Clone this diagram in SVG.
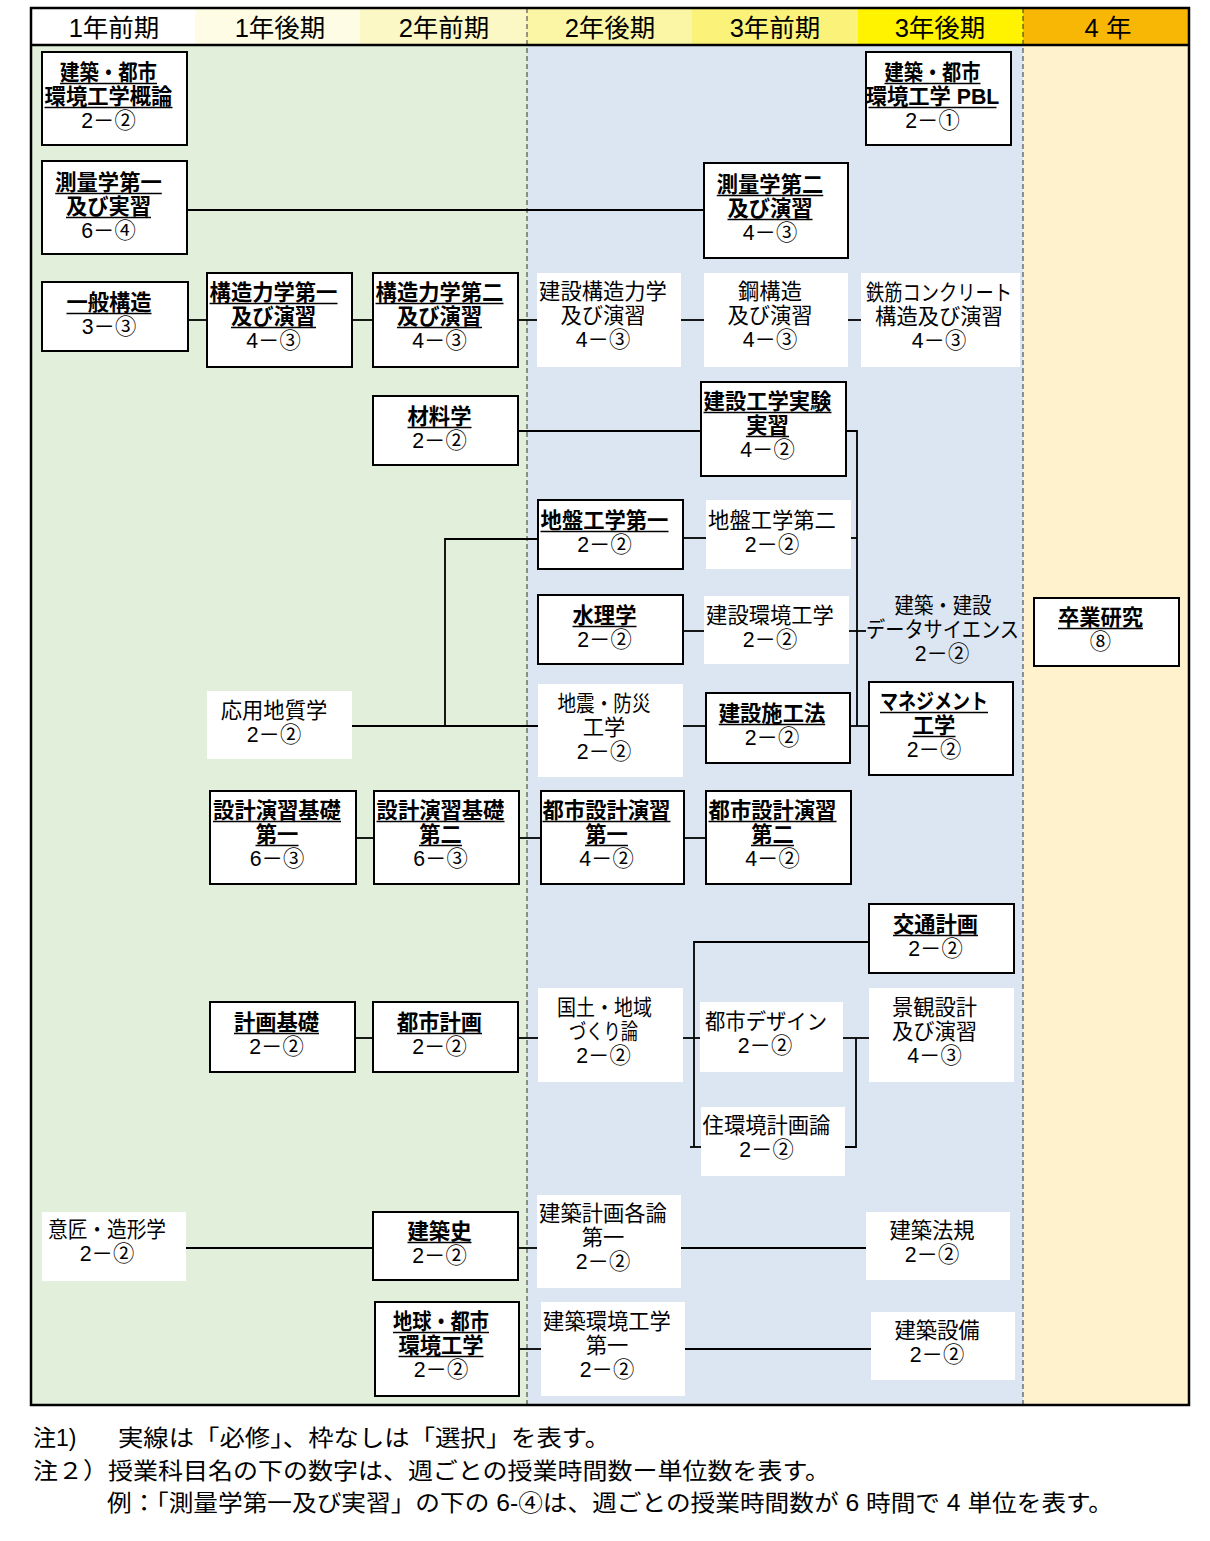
<svg xmlns="http://www.w3.org/2000/svg" width="1210" height="1541" viewBox="0 0 1210 1541">
<style>
.t{font-family:"Liberation Sans","Noto Sans CJK JP",sans-serif;font-size:21.3px;text-anchor:middle;fill:#000}
.b{font-weight:700}
.h{font-family:"Liberation Sans","Noto Sans CJK JP",sans-serif;font-size:25.5px;text-anchor:middle;fill:#000}
.n{font-family:"Liberation Sans","Noto Sans CJK JP",sans-serif;font-size:23px;fill:#000}
.box{fill:#fff;stroke:#000;stroke-width:2}
.plain{fill:#fff}
.c{stroke:#000;stroke-width:1.8;fill:none}
.ul{stroke:#000;stroke-width:1.4;fill:none}
.dash{stroke:#333;stroke-width:1;stroke-dasharray:5 3}
</style>
<rect x="0" y="0" width="1210" height="1541" fill="#fff"/>
<g id="background">
<rect x="31" y="8" width="164" height="37" fill="#ffffff"/>
<rect x="195" y="8" width="165" height="37" fill="#fefce4"/>
<rect x="360" y="8" width="167" height="37" fill="#fcf8c6"/>
<rect x="527" y="8" width="165" height="37" fill="#fbf6a6"/>
<rect x="692" y="8" width="166" height="37" fill="#fbf27a"/>
<rect x="858" y="8" width="165" height="37" fill="#fff300"/>
<rect x="1023" y="8" width="166" height="37" fill="#f8b705"/>
<rect x="31" y="45" width="496" height="1360" fill="#e2efda"/>
<rect x="527" y="45" width="496" height="1360" fill="#dce6f2"/>
<rect x="1023" y="45" width="166" height="1360" fill="#fff2cc"/>
<line class="dash" x1="527" y1="8" x2="527" y2="1405"/>
<line class="dash" x1="1023" y1="8" x2="1023" y2="1405"/>
<rect x="31" y="8" width="1158" height="1397" fill="none" stroke="#000" stroke-width="2.5"/>
<line x1="31" y1="45" x2="1189" y2="45" stroke="#000" stroke-width="2.5"/>
</g>
<g id="header">
<text class="h" x="114" y="37">1年前期</text>
<text class="h" x="280" y="37">1年後期</text>
<text class="h" x="444" y="37">2年前期</text>
<text class="h" x="610" y="37">2年後期</text>
<text class="h" x="775" y="37">3年前期</text>
<text class="h" x="940" y="37">3年後期</text>
<text class="h" x="1108" y="37">4 年</text>
</g>
<g id="connectors">
<line class="c" x1="187" y1="210" x2="704" y2="210"/>
<line class="c" x1="188" y1="320" x2="207" y2="320"/>
<line class="c" x1="352" y1="320" x2="373" y2="320"/>
<line class="c" x1="518" y1="320" x2="537" y2="320"/>
<line class="c" x1="681" y1="320" x2="704" y2="320"/>
<line class="c" x1="848" y1="320" x2="861" y2="320"/>
<line class="c" x1="518" y1="431" x2="701" y2="431"/>
<path class="c" d="M846 431 H857 V726"/>
<line class="c" x1="683" y1="538" x2="706" y2="538"/>
<line class="c" x1="851" y1="538" x2="857" y2="538"/>
<line class="c" x1="683" y1="631" x2="704" y2="631"/>
<line class="c" x1="849" y1="631" x2="866" y2="631"/>
<line class="c" x1="683" y1="726" x2="706" y2="726"/>
<line class="c" x1="850" y1="726" x2="869" y2="726"/>
<line class="c" x1="352" y1="726" x2="538" y2="726"/>
<path class="c" d="M445 726 V539 H538"/>
<line class="c" x1="356" y1="838" x2="374" y2="838"/>
<line class="c" x1="519" y1="838" x2="541" y2="838"/>
<line class="c" x1="684" y1="838" x2="706" y2="838"/>
<line class="c" x1="355" y1="1038" x2="373" y2="1038"/>
<line class="c" x1="518" y1="1038" x2="538" y2="1038"/>
<line class="c" x1="683" y1="1038" x2="700" y2="1038"/>
<path class="c" d="M869 942 H694 V1147"/>
<line class="c" x1="690" y1="1147" x2="701" y2="1147"/>
<line class="c" x1="843" y1="1038" x2="869" y2="1038"/>
<path class="c" d="M856 1038 V1147 H845"/>
<line class="c" x1="186" y1="1248" x2="373" y2="1248"/>
<line class="c" x1="518" y1="1248" x2="537" y2="1248"/>
<line class="c" x1="681" y1="1248" x2="866" y2="1248"/>
<line class="c" x1="519" y1="1349" x2="541" y2="1349"/>
<line class="c" x1="685" y1="1349" x2="871" y2="1349"/>
</g>
<g id="n1"><rect class="box" x="42" y="52" width="145" height="93"/>
<text class="t"><tspan class="b" x="108.5" y="80" textLength="97" lengthAdjust="spacingAndGlyphs">建築・都市</tspan><tspan class="b" x="108.5" y="104">環境工学概論</tspan><tspan x="108.5" y="128">2－②</tspan></text>
<path class="ul" d="M60 83.5h97M44.5 107.5h128"/></g>
<g id="n2"><rect class="box" x="866" y="52" width="145" height="93"/>
<text class="t"><tspan class="b" x="932.5" y="80" textLength="96" lengthAdjust="spacingAndGlyphs">建築・都市</tspan><tspan class="b" x="932.5" y="104">環境工学 PBL</tspan><tspan x="932.5" y="128">2－①</tspan></text>
<path class="ul" d="M884.5 83.5h96M868.5 107.5h128"/></g>
<g id="n3"><rect class="box" x="42" y="161" width="145" height="93"/>
<text class="t"><tspan class="b" x="108.5" y="190">測量学第一</tspan><tspan class="b" x="108.5" y="214">及び実習</tspan><tspan x="108.5" y="238">6－④</tspan></text>
<path class="ul" d="M55.25 193.5h106.5M66 217.5h85"/></g>
<g id="n4"><rect class="box" x="704" y="163" width="144" height="95"/>
<text class="t"><tspan class="b" x="770" y="192">測量学第二</tspan><tspan class="b" x="770" y="216">及び演習</tspan><tspan x="770" y="240">4－③</tspan></text>
<path class="ul" d="M716.75 195.5h106.5M727.5 219.5h85"/></g>
<g id="n5"><rect class="box" x="42" y="282" width="146" height="69"/>
<text class="t"><tspan class="b" x="109" y="310">一般構造</tspan><tspan x="109" y="334">3－③</tspan></text>
<path class="ul" d="M66.5 313.5h85"/></g>
<g id="n6"><rect class="box" x="207" y="273" width="145" height="94"/>
<text class="t"><tspan class="b" x="273.5" y="300">構造力学第一</tspan><tspan class="b" x="273.5" y="324">及び演習</tspan><tspan x="273.5" y="348">4－③</tspan></text>
<path class="ul" d="M209.5 303.5h128M231 327.5h85"/></g>
<g id="n7"><rect class="box" x="373" y="273" width="145" height="94"/>
<text class="t"><tspan class="b" x="439.5" y="300">構造力学第二</tspan><tspan class="b" x="439.5" y="324">及び演習</tspan><tspan x="439.5" y="348">4－③</tspan></text>
<path class="ul" d="M375.5 303.5h128M397 327.5h85"/></g>
<g id="n8"><rect class="plain" x="537" y="273" width="144" height="94"/>
<text class="t"><tspan x="603" y="299">建設構造力学</tspan><tspan x="603" y="323">及び演習</tspan><tspan x="603" y="347">4－③</tspan></text></g>
<g id="n9"><rect class="plain" x="704" y="273" width="144" height="94"/>
<text class="t"><tspan x="770" y="299">鋼構造</tspan><tspan x="770" y="323">及び演習</tspan><tspan x="770" y="347">4－③</tspan></text></g>
<g id="n10"><rect class="plain" x="861" y="273" width="159" height="94"/>
<text class="t"><tspan x="939" y="300" textLength="146" lengthAdjust="spacingAndGlyphs">鉄筋コンクリート</tspan><tspan x="939" y="324">構造及び演習</tspan><tspan x="939" y="348">4－③</tspan></text></g>
<g id="n11"><rect class="box" x="373" y="396" width="145" height="69"/>
<text class="t"><tspan class="b" x="439.5" y="424">材料学</tspan><tspan x="439.5" y="448">2－②</tspan></text>
<path class="ul" d="M407.5 427.5h64"/></g>
<g id="n12"><rect class="box" x="701" y="382" width="145" height="94"/>
<text class="t"><tspan class="b" x="767.5" y="409">建設工学実験</tspan><tspan class="b" x="767.5" y="433">実習</tspan><tspan x="767.5" y="457">4－②</tspan></text>
<path class="ul" d="M703.5 412.5h128M746 436.5h43"/></g>
<g id="n13"><rect class="box" x="538" y="500" width="145" height="69"/>
<text class="t"><tspan class="b" x="604.5" y="528">地盤工学第一</tspan><tspan x="604.5" y="552">2－②</tspan></text>
<path class="ul" d="M540.5 531.5h128"/></g>
<g id="n14"><rect class="plain" x="706" y="500" width="145" height="69"/>
<text class="t"><tspan x="772" y="528">地盤工学第二</tspan><tspan x="772" y="552">2－②</tspan></text></g>
<g id="n15"><rect class="box" x="538" y="595" width="145" height="69"/>
<text class="t"><tspan class="b" x="604.5" y="623">水理学</tspan><tspan x="604.5" y="647">2－②</tspan></text>
<path class="ul" d="M572.5 626.5h64"/></g>
<g id="n16"><rect class="plain" x="704" y="596" width="145" height="68"/>
<text class="t"><tspan x="770" y="623">建設環境工学</tspan><tspan x="770" y="647">2－②</tspan></text></g>
<g id="n17"><rect class="plain" x="538" y="684" width="145" height="93"/>
<text class="t"><tspan x="604" y="711" textLength="93" lengthAdjust="spacingAndGlyphs">地震・防災</tspan><tspan x="604" y="735">工学</tspan><tspan x="604" y="759">2－②</tspan></text></g>
<g id="n18"><rect class="box" x="706" y="693" width="144" height="70"/>
<text class="t"><tspan class="b" x="772" y="721">建設施工法</tspan><tspan x="772" y="745">2－②</tspan></text>
<path class="ul" d="M718.75 724.5h106.5"/></g>
<g id="n19">
<text class="t"><tspan x="943" y="613" textLength="97" lengthAdjust="spacingAndGlyphs">建築・建設</tspan><tspan x="942.5" y="637" textLength="153" lengthAdjust="spacingAndGlyphs">データサイエンス</tspan><tspan x="942" y="661">2－②</tspan></text></g>
<g id="n20"><rect class="box" x="869" y="682" width="144" height="93"/>
<text class="t"><tspan class="b" x="934" y="709" textLength="108" lengthAdjust="spacingAndGlyphs">マネジメント</tspan><tspan class="b" x="934" y="733">工学</tspan><tspan x="934" y="757">2－②</tspan></text>
<path class="ul" d="M880 712.5h108M912.5 736.5h43"/></g>
<g id="n21"><rect class="box" x="1034" y="598" width="145" height="68"/>
<text class="t"><tspan class="b" x="1100.5" y="625">卒業研究</tspan><tspan x="1100.5" y="649">⑧</tspan></text>
<path class="ul" d="M1058 628.5h85"/></g>
<g id="n22"><rect class="plain" x="207" y="691" width="145" height="68"/>
<text class="t"><tspan x="274" y="718">応用地質学</tspan><tspan x="274" y="742">2－②</tspan></text></g>
<g id="n23"><rect class="box" x="210" y="791" width="146" height="93"/>
<text class="t"><tspan class="b" x="277" y="818">設計演習基礎</tspan><tspan class="b" x="277" y="842">第一</tspan><tspan x="277" y="866">6－③</tspan></text>
<path class="ul" d="M213 821.5h128M255.5 845.5h43"/></g>
<g id="n24"><rect class="box" x="374" y="791" width="145" height="93"/>
<text class="t"><tspan class="b" x="440.5" y="818">設計演習基礎</tspan><tspan class="b" x="440.5" y="842">第二</tspan><tspan x="440.5" y="866">6－③</tspan></text>
<path class="ul" d="M376.5 821.5h128M419 845.5h43"/></g>
<g id="n25"><rect class="box" x="541" y="791" width="143" height="93"/>
<text class="t"><tspan class="b" x="606.5" y="818">都市設計演習</tspan><tspan class="b" x="606.5" y="842">第一</tspan><tspan x="606.5" y="866">4－②</tspan></text>
<path class="ul" d="M542.5 821.5h128M585 845.5h43"/></g>
<g id="n26"><rect class="box" x="706" y="791" width="145" height="93"/>
<text class="t"><tspan class="b" x="772.5" y="818">都市設計演習</tspan><tspan class="b" x="772.5" y="842">第二</tspan><tspan x="772.5" y="866">4－②</tspan></text>
<path class="ul" d="M708.5 821.5h128M751 845.5h43"/></g>
<g id="n27"><rect class="box" x="210" y="1002" width="145" height="70"/>
<text class="t"><tspan class="b" x="276.5" y="1030">計画基礎</tspan><tspan x="276.5" y="1054">2－②</tspan></text>
<path class="ul" d="M234 1033.5h85"/></g>
<g id="n28"><rect class="box" x="373" y="1002" width="145" height="70"/>
<text class="t"><tspan class="b" x="439.5" y="1030">都市計画</tspan><tspan x="439.5" y="1054">2－②</tspan></text>
<path class="ul" d="M397 1033.5h85"/></g>
<g id="n29"><rect class="plain" x="538" y="988" width="145" height="94"/>
<text class="t"><tspan x="604.5" y="1015" textLength="95" lengthAdjust="spacingAndGlyphs">国土・地域</tspan><tspan x="603.5" y="1039" textLength="69" lengthAdjust="spacingAndGlyphs">づくり論</tspan><tspan x="603.5" y="1063">2－②</tspan></text></g>
<g id="n30"><rect class="box" x="869" y="904" width="145" height="69"/>
<text class="t"><tspan class="b" x="935.5" y="932">交通計画</tspan><tspan x="935.5" y="956">2－②</tspan></text>
<path class="ul" d="M893 935.5h85"/></g>
<g id="n31"><rect class="plain" x="700" y="1002" width="143" height="70"/>
<text class="t"><tspan x="766" y="1029" textLength="122" lengthAdjust="spacingAndGlyphs">都市デザイン</tspan><tspan x="765" y="1053">2－②</tspan></text></g>
<g id="n32"><rect class="plain" x="869" y="988" width="145" height="94"/>
<text class="t"><tspan x="934.5" y="1015">景観設計</tspan><tspan x="934.5" y="1039">及び演習</tspan><tspan x="934.5" y="1063">4－③</tspan></text></g>
<g id="n33"><rect class="plain" x="701" y="1107" width="144" height="69"/>
<text class="t"><tspan x="766.5" y="1133">住環境計画論</tspan><tspan x="766.5" y="1157">2－②</tspan></text></g>
<g id="n34"><rect class="plain" x="42" y="1212" width="144" height="69"/>
<text class="t"><tspan x="107" y="1237" textLength="118" lengthAdjust="spacingAndGlyphs">意匠・造形学</tspan><tspan x="107" y="1261">2－②</tspan></text></g>
<g id="n35"><rect class="box" x="373" y="1212" width="145" height="68"/>
<text class="t"><tspan class="b" x="439.5" y="1239">建築史</tspan><tspan x="439.5" y="1263">2－②</tspan></text>
<path class="ul" d="M407.5 1242.5h64"/></g>
<g id="n36"><rect class="plain" x="537" y="1195" width="144" height="93"/>
<text class="t"><tspan x="603" y="1221">建築計画各論</tspan><tspan x="603" y="1245">第一</tspan><tspan x="603" y="1269">2－②</tspan></text></g>
<g id="n37"><rect class="plain" x="866" y="1212" width="144" height="68"/>
<text class="t"><tspan x="932" y="1238">建築法規</tspan><tspan x="932" y="1262">2－②</tspan></text></g>
<g id="n38"><rect class="box" x="375" y="1302" width="144" height="94"/>
<text class="t"><tspan class="b" x="441" y="1329" textLength="96" lengthAdjust="spacingAndGlyphs">地球・都市</tspan><tspan class="b" x="441" y="1353">環境工学</tspan><tspan x="441" y="1377">2－②</tspan></text>
<path class="ul" d="M393 1332.5h96M398.5 1356.5h85"/></g>
<g id="n39"><rect class="plain" x="541" y="1302" width="144" height="94"/>
<text class="t"><tspan x="607" y="1329">建築環境工学</tspan><tspan x="607" y="1353">第一</tspan><tspan x="607" y="1377">2－②</tspan></text></g>
<g id="n40"><rect class="plain" x="871" y="1312" width="144" height="68"/>
<text class="t"><tspan x="937" y="1338">建築設備</tspan><tspan x="937" y="1362">2－②</tspan></text></g>
<g id="notes">
<text class="n" x="33" y="1446">注1)</text>
<text class="n" x="118" y="1446" textLength="492" lengthAdjust="spacingAndGlyphs">実線は「必修」、枠なしは「選択」を表す。</text>
<text class="n" x="33" y="1479" textLength="797" lengthAdjust="spacingAndGlyphs">注２）授業科目名の下の数字は、週ごとの授業時間数ー単位数を表す。</text>
<text class="n" x="107" y="1511" textLength="1006" lengthAdjust="spacingAndGlyphs">例：「測量学第一及び実習」の下の 6-④は、週ごとの授業時間数が 6 時間で 4 単位を表す。</text>
</g>
</svg>
